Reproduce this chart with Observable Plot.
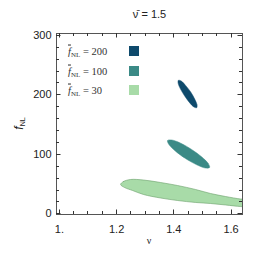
<!DOCTYPE html>
<html><head><meta charset="utf-8">
<script src="https://cdn.jsdelivr.net/npm/d3@7"></script>
<script src="https://cdn.jsdelivr.net/npm/@observablehq/plot@0.6"></script>
<style>body{margin:0;background:#fff}</style>
</head><body><div id="chart"></div>
<script>
// ---- data ----
const levels = [200, 100, 30];
const levelColors = ["#0e4a6c", "#3b8a86", "#a8dba8"];
const nu200 = [1.480,1.481,1.473,1.459,1.441,1.426,1.416,1.415,1.423,1.438,1.455,1.470];
const f200  = [178.4,183.1,192.8,204.7,215.8,223.1,224.4,219.7,210.0,198.0,186.9,179.7];
const nu100 = [1.525,1.520,1.497,1.462,1.424,1.393,1.378,1.383,1.406,1.441,1.480,1.510];
const f100  = [77.9,84.8,95.9,108.3,118.8,124.1,123.3,116.4,105.3,92.9,82.5,77.1];
const nu30  = [1.214,1.224,1.249,1.294,1.354,1.413,1.476,1.528,1.581,1.633,1.651,1.651,1.633,1.581,1.528,1.476,1.413,1.354,1.294,1.256,1.228];
const f30   = [49.4,54.4,57.8,56.9,52.7,47.7,41.0,34.3,29.2,25.0,24.2,12.4,12.4,15.0,17.5,19.2,22.5,26.7,32.6,39.3,44.3];
const xMajor = [1.0, 1.2, 1.4, 1.6];
const xMinor = [1.05,1.1,1.15,1.25,1.3,1.35,1.45,1.5,1.55];
const yMajor = [0, 100, 200, 300];
const yMinor = [20,40,60,80,120,140,160,180,220,240,260,280];
const title = "ν̄ = 1.5";

const pts = (nu, f) => nu.map((v, i) => ({nu: v, f: f[i]}));
const c200 = pts(nu200, f200), c100 = pts(nu100, f100), c30 = pts(nu30, f30);

const W = 256, H = 256, mt = 33, mb = 42, ml = 56, mr = 14;
const fh = H - mt - mb, fw = W - ml - mr;
const tickCol = "#333";

const plot = Plot.plot({
  width: W, height: H,
  marginTop: mt, marginBottom: mb, marginLeft: ml, marginRight: mr,
  style: {fontFamily: "Liberation Sans, Arial, sans-serif", fontSize: "11px", color: "#222", background: "#fff"},
  x: {domain: [0.99, 1.64]},
  y: {domain: [-1, 303]},
  marks: [
    Plot.line(c30, {x: "nu", y: "f", fill: levelColors[2], stroke: "#6a9f6a", strokeWidth: 0.6, curve: "catmull-rom-closed", clip: true}),
    Plot.line(c100, {x: "nu", y: "f", fill: levelColors[1], stroke: levelColors[1], strokeWidth: 0.5, curve: "catmull-rom-closed", clip: true}),
    Plot.line(c200, {x: "nu", y: "f", fill: levelColors[0], stroke: levelColors[0], strokeWidth: 0.5, curve: "catmull-rom-closed", clip: true}),
    Plot.axisX({anchor: "bottom", ticks: xMajor, tickSize: 0, tickPadding: 11, label: null,
      tickFormat: d => d === 1 ? "1." : d3.format(".1f")(d)}),
    Plot.axisY({anchor: "left", ticks: yMajor, tickSize: 0, tickPadding: 5, label: null}),
    Plot.frame({stroke: "#555", strokeWidth: 1}),
    Plot.text([title], {frameAnchor: "top", dy: -23, text: d => d, fontSize: 11})
  ]
});

const svg = d3.select(plot);
const sx = plot.scale("x"), sy = plot.scale("y");
const fTop = mt, fBottom = H - mb, fLeft = ml, fRight = W - mr;
// inward frame ticks on all four sides
const tg = svg.append("g").attr("stroke", tickCol).attr("stroke-width", 1).attr("fill", "none");
const xt = (vals, len) => vals.forEach(v => {
  const x = Math.round(sx.apply(v)) + 0.5;
  tg.append("path").attr("d", `M${x},${fBottom}V${fBottom - len}M${x},${fTop}V${fTop + len}`);
});
const yt = (vals, len) => vals.forEach(v => {
  const y = Math.round(sy.apply(v)) + 0.5;
  tg.append("path").attr("d", `M${fLeft},${y}H${fLeft + len}M${fRight},${y}H${fRight - len}`);
});
xt(xMajor, 4.5); xt(xMinor, 3); yt(yMajor, 4.5); yt(yMinor, 3);

// x label
svg.append("text").attr("x", ml + fw / 2).attr("y", 244).attr("text-anchor", "middle")
  .attr("font-family", "Liberation Serif, serif").attr("font-size", 10).attr("fill", "#222").text("ν");
// y label
const yl = svg.append("text").attr("transform", `translate(23,${mt + fh / 2}) rotate(-90)`)
  .attr("text-anchor", "middle").attr("font-size", 12).attr("fill", "#222");
yl.append("tspan").attr("font-style", "italic").text("f");
yl.append("tspan").attr("font-size", 7).attr("dy", 2).text("NL");

// legend
const rowY = [51, 71, 90];
levels.forEach((lv, i) => {
  const t = svg.append("text").attr("x", 68).attr("y", rowY[i] + 3.5).attr("text-anchor", "start")
    .attr("font-family", "Liberation Serif, serif").attr("font-size", 10.5).attr("fill", "#333");
  t.append("tspan").attr("font-style", "italic").attr("text-decoration", "overline").text("f");
  t.append("tspan").attr("font-size", 7).attr("dy", 2).text("NL");
  t.append("tspan").attr("dy", -2).text(" = " + lv);
  svg.append("rect").attr("x", 129).attr("y", rowY[i] - 5).attr("width", 10).attr("height", 10)
    .attr("fill", levelColors[i]);
});

document.getElementById("chart").appendChild(plot);
</script>
</body></html>
